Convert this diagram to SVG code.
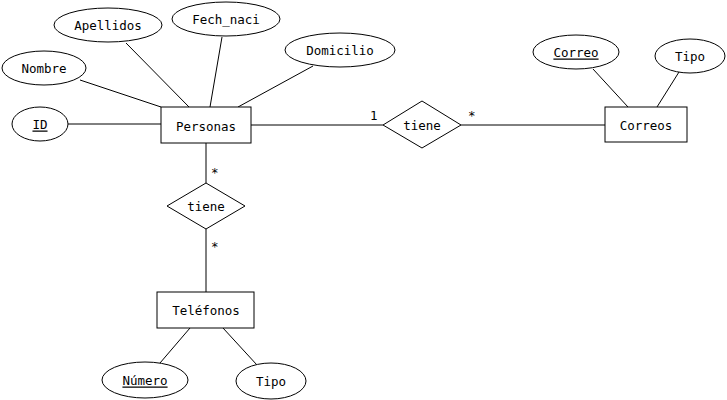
<svg xmlns="http://www.w3.org/2000/svg" width="727" height="400" viewBox="0 0 727 400">
<style>
.s{fill:#fff;stroke:#000;stroke-width:1}
.c{stroke:#000;stroke-width:1;fill:none}
text{font-family:"DejaVu Sans Mono",monospace;font-size:12.5px;fill:#000;text-anchor:middle;dominant-baseline:central}
.u{text-decoration:underline}
.l{text-anchor:start}
</style>
<rect width="727" height="400" fill="#fff"/>
<g id="connectors">
<line class="c" x1="68" y1="124" x2="161" y2="124"/>
<line class="c" x1="80" y1="80" x2="161" y2="107"/>
<line class="c" x1="126" y1="43" x2="189" y2="107"/>
<line class="c" x1="222" y1="37" x2="210" y2="107"/>
<line class="c" x1="313" y1="66" x2="238" y2="107"/>
<line class="c" x1="251" y1="125" x2="383" y2="125"/>
<line class="c" x1="461" y1="125" x2="605" y2="125"/>
<line class="c" x1="593" y1="69" x2="628" y2="107"/>
<line class="c" x1="679" y1="72" x2="657" y2="107"/>
<line class="c" x1="206" y1="143" x2="206" y2="183"/>
<line class="c" x1="206" y1="229" x2="206" y2="292"/>
<line class="c" x1="190" y1="328" x2="160" y2="363"/>
<line class="c" x1="223" y1="328" x2="257" y2="365"/>
<text class="l" x="370" y="115">1</text>
<text class="l" x="468" y="115">*</text>
<text class="l" x="211" y="172">*</text>
<text class="l" x="211" y="246">*</text>
</g>
<g id="personas"><rect class="s" x="161" y="107" width="90" height="36"/><text x="206" y="126">Personas</text></g>
<g id="id"><ellipse class="s" cx="40" cy="124" rx="28" ry="17"/><text class="u" x="40" y="124">ID</text></g>
<g id="nombre"><ellipse class="s" cx="44" cy="68" rx="42" ry="17"/><text x="44" y="68">Nombre</text></g>
<g id="apellidos"><ellipse class="s" cx="108" cy="25" rx="54" ry="17"/><text x="108" y="25">Apellidos</text></g>
<g id="fech"><ellipse class="s" cx="226" cy="19" rx="54" ry="17"/><text x="226" y="19">Fech_naci</text></g>
<g id="domicilio"><ellipse class="s" cx="340" cy="50" rx="55" ry="17"/><text x="340" y="50">Domicilio</text></g>
<g id="tiene1"><polygon class="s" points="383,125 422,101 461,125 422,148"/><text x="422" y="125">tiene</text></g>
<g id="correos"><rect class="s" x="605" y="107" width="82" height="35"/><text x="646" y="125">Correos</text></g>
<g id="correo"><ellipse class="s" cx="576" cy="52" rx="43" ry="17"/><text class="u" x="576" y="52">Correo</text></g>
<g id="tipo1"><ellipse class="s" cx="690" cy="56" rx="35" ry="17"/><text x="690" y="56">Tipo</text></g>
<g id="tiene2"><polygon class="s" points="167,206 206,183 245,206 206,229"/><text x="206" y="206">tiene</text></g>
<g id="telefonos"><rect class="s" x="157" y="292" width="97" height="36"/><text x="206" y="310">Teléfonos</text></g>
<g id="numero"><ellipse class="s" cx="145" cy="380" rx="43" ry="18"/><text class="u" x="145" y="380">Número</text></g>
<g id="tipo2"><ellipse class="s" cx="271" cy="381" rx="35" ry="18"/><text x="271" y="381">Tipo</text></g>
</svg>
